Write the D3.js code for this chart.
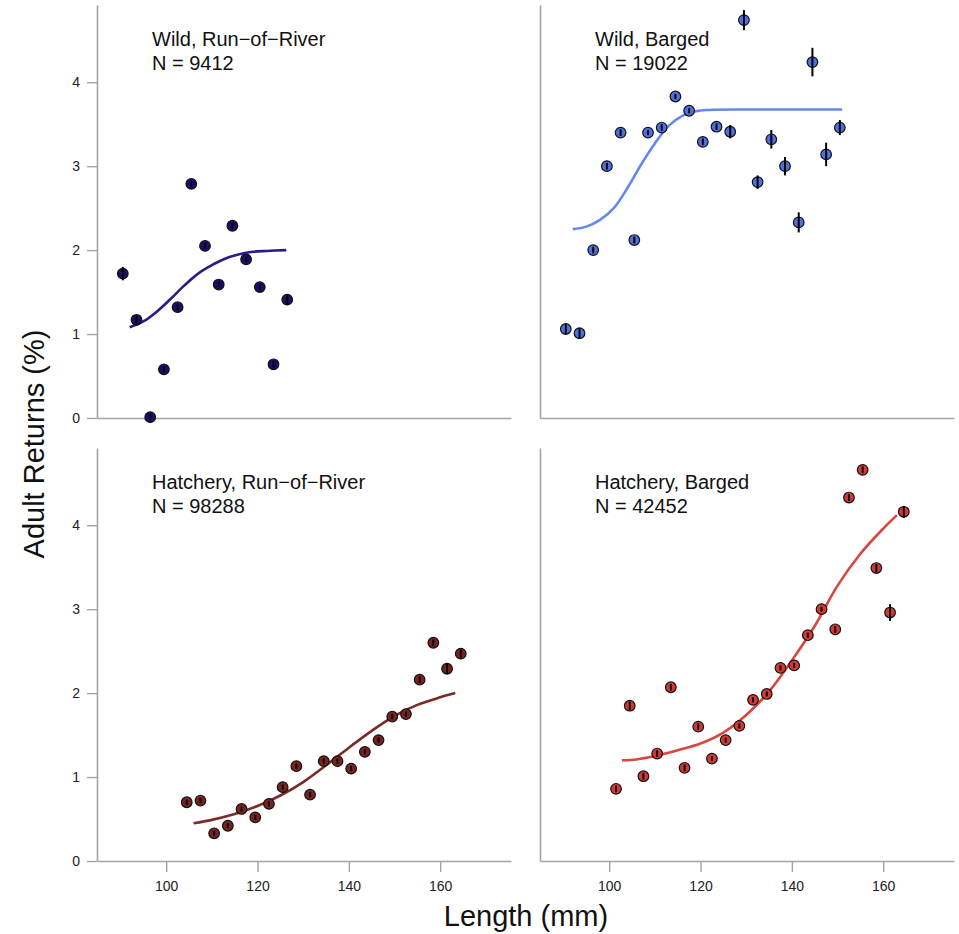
<!DOCTYPE html>
<html>
<head>
<meta charset="utf-8">
<style>
  body { margin: 0; background: #fff; }
  svg text { font-family: "Liberation Sans", Arial, sans-serif; }
</style>
</head>
<body>
<svg></svg>
<script src="https://cdn.jsdelivr.net/npm/d3@7"></script>
<script>
// ---- data ----
const yTicks = [0, 1, 2, 3, 4];
const xTicks = [100, 120, 140, 160];

// Wild, Run-of-River
const lenWildRor = [90.5, 93.5, 96.5, 99.5, 102.5, 105.5, 108.5, 111.5, 114.5, 117.5, 120.5, 123.5, 126.5];
const retWildRor = [1.72, 1.17, 0.01, 0.58, 1.32, 2.79, 2.05, 1.59, 2.29, 1.89, 1.56, 0.64, 1.41];
const errWildRor = [0.08, 0.05, 0.04, 0.03, 0.03, 0.03, 0.03, 0.03, 0.03, 0.03, 0.03, 0.04, 0.06];
const fitWildRorX = [92, 95, 98, 101, 104, 107, 110, 113, 116, 119, 122, 126.3];
const fitWildRorY = [1.08, 1.15, 1.27, 1.42, 1.58, 1.72, 1.82, 1.9, 1.95, 1.98, 1.99, 2.0];

// Wild, Barged
const lenWildBar = [90.5, 93.5, 96.5, 99.5, 102.5, 105.5, 108.5, 111.5, 114.5, 117.5, 120.5, 123.5, 126.5, 129.5, 132.5, 135.5, 138.5, 141.5, 144.5, 147.5, 150.5];
const retWildBar = [1.06, 1.01, 2.0, 3.0, 3.4, 2.12, 3.4, 3.46, 3.83, 3.66, 3.29, 3.47, 3.41, 4.74, 2.81, 3.32, 3.0, 2.33, 4.24, 3.14, 3.46];
const errWildBar = [0.06, 0.06, 0.04, 0.04, 0.04, 0.04, 0.03, 0.04, 0.03, 0.03, 0.04, 0.04, 0.08, 0.12, 0.08, 0.11, 0.11, 0.12, 0.17, 0.14, 0.09];
const fitWildBarX = [92, 95, 98, 101, 104, 107, 110, 113, 116, 119, 122, 130, 151];
const fitWildBarY = [2.25, 2.28, 2.36, 2.5, 2.74, 3.02, 3.27, 3.48, 3.6, 3.655, 3.67, 3.675, 3.675];

// Hatchery, Run-of-River
const lenHatRor = [104.5, 107.5, 110.5, 113.5, 116.5, 119.5, 122.5, 125.5, 128.5, 131.5, 134.5, 137.5, 140.5, 143.5, 146.5, 149.5, 152.5, 155.5, 158.5, 161.5, 164.5];
const retHatRor = [0.7, 0.72, 0.33, 0.42, 0.62, 0.52, 0.68, 0.88, 1.13, 0.79, 1.19, 1.19, 1.1, 1.3, 1.44, 1.72, 1.75, 2.16, 2.6, 2.29, 2.47];
const errHatRor = [0.03, 0.03, 0.03, 0.03, 0.03, 0.03, 0.03, 0.03, 0.03, 0.03, 0.03, 0.03, 0.03, 0.03, 0.03, 0.03, 0.03, 0.04, 0.04, 0.06, 0.05];
const fitHatRorX = [106, 110, 115, 120, 125, 130, 135, 140, 145, 150, 155, 160, 163.3];
const fitHatRorY = [0.45, 0.49, 0.56, 0.655, 0.78, 0.94, 1.14, 1.35, 1.55, 1.73, 1.86, 1.95, 2.0];

// Hatchery, Barged
const lenHatBar = [101.5, 104.5, 107.5, 110.5, 113.5, 116.5, 119.5, 122.5, 125.5, 128.5, 131.5, 134.5, 137.5, 140.5, 143.5, 146.5, 149.5, 152.5, 155.5, 158.5, 161.5, 164.5];
const retHatBar = [0.86, 1.85, 1.01, 1.28, 2.07, 1.11, 1.6, 1.22, 1.44, 1.61, 1.92, 1.99, 2.3, 2.33, 2.69, 3.0, 2.76, 4.33, 4.66, 3.49, 2.96, 4.16];
const errHatBar = [0.04, 0.05, 0.04, 0.04, 0.04, 0.04, 0.04, 0.03, 0.03, 0.03, 0.03, 0.03, 0.03, 0.03, 0.03, 0.03, 0.04, 0.04, 0.04, 0.05, 0.1, 0.07];
const fitHatBarX = [102.8, 106, 110, 115, 120, 125, 130, 135, 140, 145, 150, 155, 160, 163];
const fitHatBarY = [1.2, 1.21, 1.25, 1.32, 1.4, 1.53, 1.74, 2.02, 2.39, 2.8, 3.28, 3.66, 3.96, 4.12];

// ---- layout ----
const width = 959, height = 934;
const plotW = 414, plotH = 413;
const colX = [97, 540];
const rowY = [5, 448];
const axisColor = '#a3a3a3';

const panels = [
  { title: 'Wild, Run\u2212of\u2212River', n: 'N = 9412', len: lenWildRor, ret: retWildRor, err: errWildRor,
    fx: fitWildRorX, fy: fitWildRorY, fill: '#1d0c6c', line: '#2b1a8c', col: 0, row: 0 },
  { title: 'Wild, Barged', n: 'N = 19022', len: lenWildBar, ret: retWildBar, err: errWildBar,
    fx: fitWildBarX, fy: fitWildBarY, fill: '#4f70df', line: '#6488f0', col: 1, row: 0 },
  { title: 'Hatchery, Run\u2212of\u2212River', n: 'N = 98288', len: lenHatRor, ret: retHatRor, err: errHatRor,
    fx: fitHatRorX, fy: fitHatRorY, fill: '#7a221f', line: '#7a2a28', col: 0, row: 1 },
  { title: 'Hatchery, Barged', n: 'N = 42452', len: lenHatBar, ret: retHatBar, err: errHatBar,
    fx: fitHatBarX, fy: fitHatBarY, fill: '#d43a33', line: '#d9463f', col: 1, row: 1 }
];

const svg = d3.select('svg').attr('width', width).attr('height', height);

const x = d3.scaleLinear().domain([84.85, 175.5]).range([0, plotW]);
const y = d3.scaleLinear().domain([0, 4.92]).range([plotH, 0]);

panels.forEach(drawPanel);

function drawPanel(p) {
  const g = svg.append('g').attr('transform', `translate(${colX[p.col]},${rowY[p.row]})`);

  // axes: y ticks only on the left column, x ticks only on the bottom row
  const yAxis = d3.axisLeft(y).tickSizeOuter(0).tickFormat(d3.format('d'));
  if (p.col === 0) yAxis.tickValues(yTicks).tickSizeInner(10).tickPadding(7);
  else yAxis.tickValues([]);
  const xAxis = d3.axisBottom(x).tickSizeOuter(0).tickFormat(d3.format('d'));
  if (p.row === 1) xAxis.tickValues(xTicks).tickSizeInner(11).tickPadding(9);
  else xAxis.tickValues([]);

  const ya = g.append('g').call(yAxis);
  const xa = g.append('g').attr('transform', `translate(0,${plotH})`).call(xAxis);
  [ya, xa].forEach(a => {
    a.select('.domain').attr('stroke', axisColor).attr('stroke-width', 1.6);
    a.selectAll('.tick line').attr('stroke', axisColor).attr('stroke-width', 1.4);
    a.selectAll('.tick text').attr('fill', '#222').style('font-size', '14px');
  });

  // fitted curve
  const fit = p.fx.map((v, i) => [v, p.fy[i]]);
  g.append('path')
    .datum(fit)
    .attr('fill', 'none')
    .attr('stroke', p.line)
    .attr('stroke-width', 2.6)
    .attr('d', d3.line().x(d => x(d[0])).y(d => y(d[1])).curve(d3.curveCatmullRom.alpha(0.5)));

  // points with error bars
  const pts = p.len.map((v, i) => ({ len: v, ret: p.ret[i], err: p.err[i] }));
  const pg = g.append('g').selectAll('g').data(pts).enter().append('g');
  pg.append('circle')
    .attr('cx', d => x(d.len))
    .attr('cy', d => y(d.ret))
    .attr('r', 5.3)
    .attr('fill', p.fill)
    .attr('stroke', '#111')
    .attr('stroke-width', 1.2);
  pg.append('line')
    .attr('x1', d => x(d.len)).attr('x2', d => x(d.len))
    .attr('y1', d => y(d.ret + d.err)).attr('y2', d => y(d.ret - d.err))
    .attr('stroke', '#000')
    .attr('stroke-width', 2);

  // panel label
  g.append('text').attr('x', 55).attr('y', 41).style('font-size', '20px').attr('fill', '#111').text(p.title);
  g.append('text').attr('x', 55).attr('y', 65).style('font-size', '20px').attr('fill', '#111').text(p.n);
}

// shared axis titles
svg.append('text')
  .attr('x', 526).attr('y', 926)
  .attr('text-anchor', 'middle')
  .style('font-size', '29px')
  .attr('fill', '#111')
  .text('Length (mm)');

svg.append('text')
  .attr('transform', 'translate(44,444) rotate(-90)')
  .attr('text-anchor', 'middle')
  .style('font-size', '29px')
  .attr('fill', '#111')
  .text('Adult Returns (%)');
</script>
</body>
</html>
